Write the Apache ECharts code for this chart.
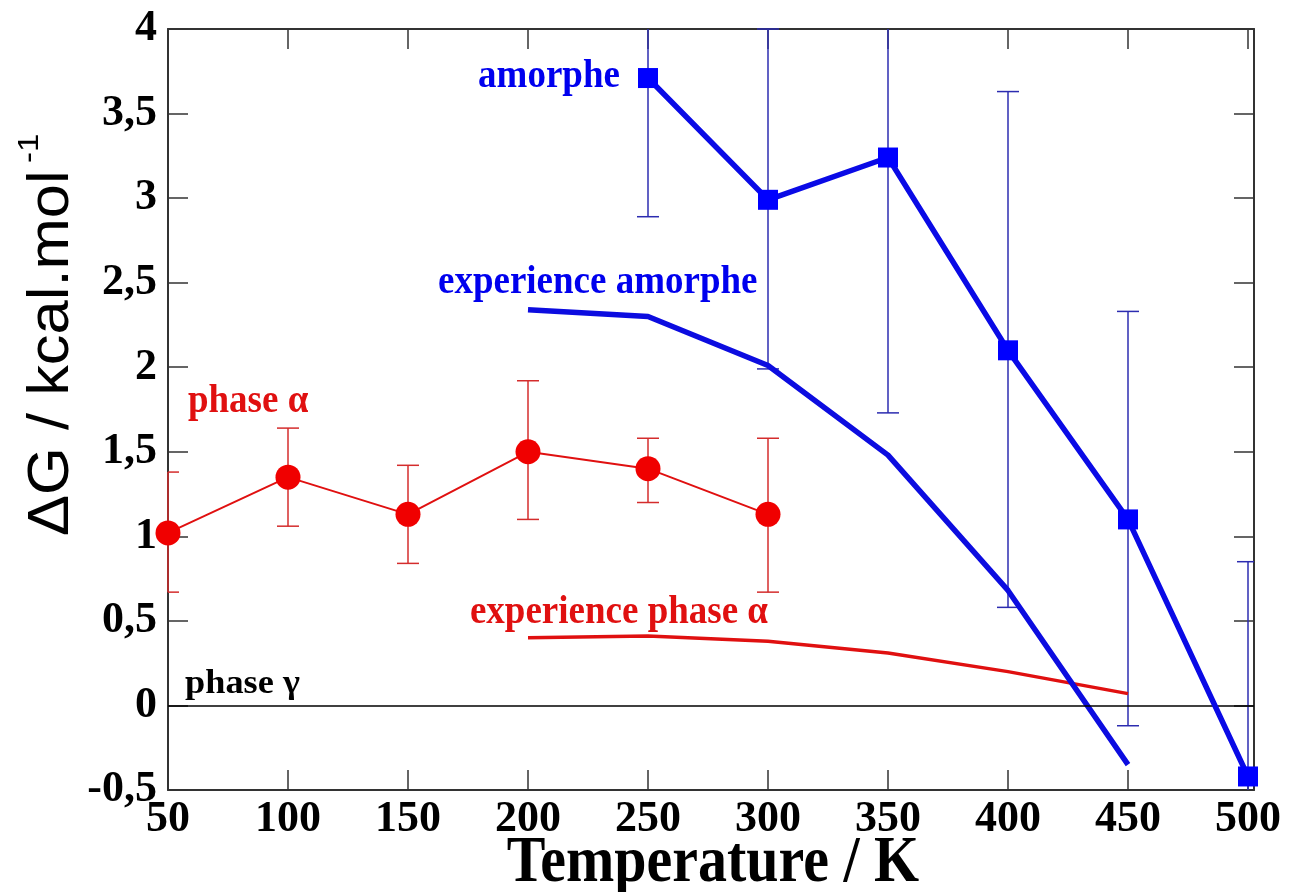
<!DOCTYPE html>
<html><head><meta charset="utf-8">
<script src="https://cdn.jsdelivr.net/npm/echarts@6/dist/echarts.min.js"></script>
<style>html,body{margin:0;padding:0;background:#fff}#c{width:1296px;height:892px}</style>
</head><body><div id="c"></div>
<script>
// ---- data ----
const amorpheT    = [250, 300, 350, 400, 450, 500];
const amorpheG    = [3.71, 2.99, 3.24, 2.10, 1.10, -0.42];
const amorpheLow  = [2.89, 1.99, 1.73, 0.58, -0.12, -1.69];
const amorpheHigh = [4.53, 4.00, 4.75, 3.63, 2.33, 0.85];

const expAmorpheT = [200, 250, 300, 350, 400, 450];
const expAmorpheG = [2.34, 2.30, 2.01, 1.48, 0.68, -0.35];

const alphaT    = [50, 100, 150, 200, 250, 300];
const alphaG    = [1.02, 1.35, 1.13, 1.50, 1.40, 1.13];
const alphaLow  = [0.67, 1.06, 0.84, 1.10, 1.20, 0.67];
const alphaHigh = [1.38, 1.64, 1.42, 1.92, 1.58, 1.58];

const expAlphaT = [200, 250, 300, 350, 400, 450];
const expAlphaG = [0.40, 0.41, 0.38, 0.31, 0.20, 0.07];

const gammaRef = 0;

const labelTexts = ['amorphe', 'experience amorphe', 'phase \u03b1', 'experience phase \u03b1', 'phase \u03b3'];
const xTitle = 'Temperature / K';
const yTitle = '\u0394G / kcal.mol';
const yTitleSup = '-1';

// ---- chart ----
const zip = (a, b) => a.map((v, i) => [v, b[i]]);
const zip3 = (a, b, c) => a.map((v, i) => [v, b[i], c[i]]);

function errRender(color) {
  return function (params, api) {
    const cs = params.coordSys;
    const x = api.value(0), lo = api.value(1), hi = api.value(2);
    const pLo = api.coord([x, lo]), pHi = api.coord([x, hi]);
    const top = cs.y, bot = cs.y + cs.height, left = cs.x, right = cs.x + cs.width;
    const w = 11;
    const style = { stroke: color, lineWidth: 1.5, fill: null };
    const y1 = Math.min(Math.max(pHi[1], top), bot), y2 = Math.min(Math.max(pLo[1], top), bot);
    const children = [{ type: 'line', shape: { x1: pLo[0], y1: y1, x2: pLo[0], y2: y2 }, style }];
    [pLo, pHi].forEach(p => {
      if (p[1] >= top - 0.5 && p[1] <= bot + 0.5) {
        children.push({ type: 'line', shape: { x1: Math.max(p[0] - w, left), y1: p[1], x2: Math.min(p[0] + w, right), y2: p[1] }, style });
      }
    });
    return { type: 'group', children };
  };
}

const serif = '"Liberation Serif", "Times New Roman", serif';
const frame = { color: '#333', width: 2 };
const tick = { inside: true, length: 20, lineStyle: { color: '#333', width: 1.5 } };

const chart = echarts.init(document.getElementById('c'), null, { renderer: 'canvas' });
chart.setOption({
  animation: false,
  backgroundColor: '#fff',
  grid: { left: 168, right: 42, top: 29, bottom: 102, containLabel: false },
  xAxis: [
    { type: 'value', min: 50, max: 502.5, interval: 50, position: 'bottom',
      axisLine: { show: true, onZero: false, lineStyle: frame }, axisTick: tick,
      splitLine: { show: false },
      axisLabel: { show: true, margin: 8, color: '#000', fontFamily: serif, fontWeight: 'bold', fontSize: 44,
        showMaxLabel: false, formatter: v => (v % 50 === 0 ? String(v) : '') } },
    { type: 'value', min: 50, max: 502.5, interval: 50, position: 'top',
      axisLine: { show: true, onZero: false, lineStyle: frame }, axisTick: tick,
      splitLine: { show: false }, axisLabel: { show: false } }
  ],
  yAxis: [
    { type: 'value', min: -0.5, max: 4, interval: 0.5, position: 'left',
      axisLine: { show: true, onZero: false, lineStyle: frame }, axisTick: tick,
      splitLine: { show: false },
      axisLabel: { show: true, margin: 11, color: '#000', fontFamily: serif, fontWeight: 'bold', fontSize: 44,
        formatter: v => String(v).replace('.', ',') } },
    { type: 'value', min: -0.5, max: 4, interval: 0.5, position: 'right',
      axisLine: { show: true, onZero: false, lineStyle: frame }, axisTick: tick,
      splitLine: { show: false }, axisLabel: { show: false } }
  ],
  series: [
    { type: 'custom', name: 'err amorphe', renderItem: errRender('#2c2cb0'), data: zip3(amorpheT, amorpheLow, amorpheHigh),
      encode: { x: 0, y: [1, 2] }, z: 1, silent: true },
    { type: 'custom', name: 'err alpha', renderItem: errRender('#d42c2c'), data: zip3(alphaT, alphaLow, alphaHigh),
      encode: { x: 0, y: [1, 2] }, z: 1, silent: true },
    { type: 'line', name: 'experience phase alpha', data: zip(expAlphaT, expAlphaG), showSymbol: false, symbol: 'none',
      lineStyle: { color: '#e01010', width: 3.5 }, z: 2,
      markLine: { silent: true, symbol: 'none', label: { show: false },
        lineStyle: { color: '#000', width: 1.5, type: 'solid' }, data: [{ yAxis: gammaRef }] } },
    { type: 'line', name: 'experience amorphe', data: zip(expAmorpheT, expAmorpheG), showSymbol: false, symbol: 'none',
      lineStyle: { color: '#0c0ce0', width: 5.5 }, z: 3 },
    { type: 'line', name: 'phase alpha', data: zip(alphaT, alphaG), symbol: 'circle', symbolSize: 25,
      lineStyle: { color: '#e01010', width: 2 }, itemStyle: { color: '#f00000' }, z: 4 },
    { type: 'line', name: 'amorphe', data: zip(amorpheT, amorpheG), symbol: 'rect', symbolSize: 20,
      lineStyle: { color: '#0a0ae6', width: 5.5 }, itemStyle: { color: '#0000ff' }, z: 5 }
  ]
});

// ---- annotations (placed in data coordinates) ----
function px(t, g) { return chart.convertToPixel({ gridIndex: 0 }, [t, g]); }
function label(text, t, g, color, size, sx, sy) {
  const p = px(t, g);
  return { type: 'text', x: p[0], y: p[1], scaleX: sx, scaleY: sy, z: 100,
    style: { text, x: 0, y: 0, fill: color, font: 'bold ' + size + 'px ' + serif, textAlign: 'left', textVerticalAlign: 'bottom' } };
}
chart.setOption({
  graphic: [
    label(labelTexts[0], 179.2, 3.60, '#0000ee', 37, 1, 1.1),
    label(labelTexts[1], 162.5, 2.38, '#0000ee', 37, 1, 1.1),
    label(labelTexts[2], 58.3, 1.68, '#e01010', 37, 1, 1.1),
    label(labelTexts[3], 175.8, 0.43, '#e01010', 37, 1, 1.1),
    label(labelTexts[4], 57.1, 0.025, '#000', 33, 1.1, 1),
    { type: 'text', x: 713, y: 864, scaleY: 1.12, z: 100,
      style: { text: xTitle, x: 0, y: 0, fill: '#000', font: 'bold 58px ' + serif, textAlign: 'center', textVerticalAlign: 'middle' } },
    { type: 'text', x: 52, y: 536, rotation: Math.PI / 2, scaleX: 1.06, z: 100,
      style: { text: yTitle, x: 0, y: 0, fill: '#000', font: '58px "Liberation Sans", Arial, sans-serif', textAlign: 'left', textVerticalAlign: 'middle' } },
    { type: 'text', x: 30, y: 163, rotation: Math.PI / 2, scaleX: 1.1, z: 100,
      style: { text: yTitleSup, x: 0, y: 0, fill: '#000', font: '30px "Liberation Sans", Arial, sans-serif', textAlign: 'left', textVerticalAlign: 'middle' } }
  ]
});
</script>
</body></html>
